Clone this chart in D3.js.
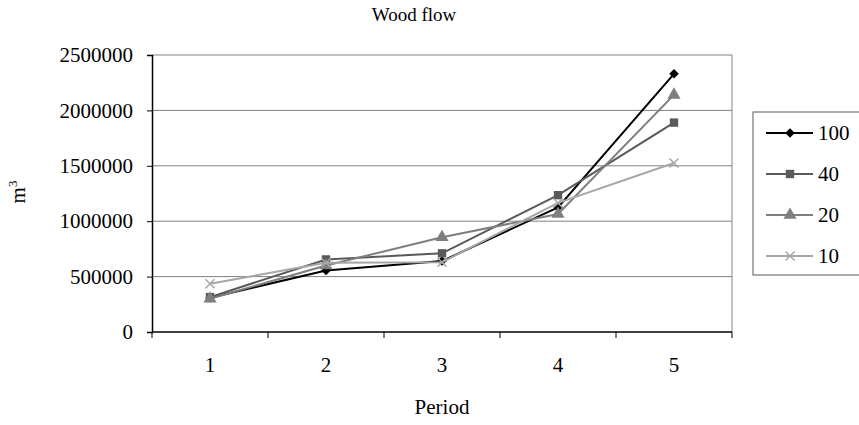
<!DOCTYPE html>
<html>
<head>
<meta charset="utf-8">
<script src="https://cdn.jsdelivr.net/npm/d3@7/dist/d3.min.js"></script>
<style>
  body { margin: 0; background: #fff; }
  svg text { font-family: "Liberation Serif", "Times New Roman", serif; fill: #000; }
</style>
</head>
<body>
<svg id="chart" width="859" height="425"></svg>
<script>
// data
var periods = ["1", "2", "3", "4", "5"];
var seriesNames = ["100", "40", "20", "10"];
var s100 = [310000, 555000, 640000, 1125000, 2330000];
var s40 = [315000, 655000, 710000, 1235000, 1890000];
var s20 = [300000, 600000, 855000, 1065000, 2140000];
var s10 = [435000, 625000, 630000, 1165000, 1525000];
var yTicks = [0, 500000, 1000000, 1500000, 2000000, 2500000];

var series = [s100, s40, s20, s10];
var colors = ["#000000", "#595959", "#7f7f7f", "#a6a6a6"];
var shapes = ["diamond", d3.symbolSquare, d3.symbolTriangle, "x"];

var plotL = 152, plotR = 732, plotT = 55, plotB = 332;
var svg = d3.select("#chart");

var x = d3.scaleBand().domain(periods).range([plotL, plotR]);
var y = d3.scaleLinear().domain([0, 2500000]).range([plotB, plotT]);

// gridlines
svg.append("g").selectAll("line")
  .data(yTicks.slice(1))
  .enter().append("line")
    .attr("x1", plotL).attr("x2", plotR)
    .attr("y1", function(d) { return y(d); })
    .attr("y2", function(d) { return y(d); })
    .attr("stroke", "#808080").attr("stroke-width", 1);

// right border
svg.append("line")
  .attr("x1", plotR).attr("x2", plotR).attr("y1", plotT).attr("y2", plotB)
  .attr("stroke", "#808080");

// y axis
var yAxis = svg.append("g")
  .attr("transform", "translate(" + plotL + ",0)")
  .call(d3.axisLeft(y).tickValues(yTicks).tickSize(5).tickPadding(14).tickFormat(d3.format("d")));
yAxis.select(".domain").attr("stroke", "#000").attr("stroke-width", 1.5);
yAxis.selectAll(".tick line").attr("stroke", "#000");
yAxis.selectAll("text").style("font-size", "21px").attr("font-family", null);

// x axis: line, boundary ticks, labels
svg.append("line")
  .attr("x1", plotL).attr("x2", plotR).attr("y1", plotB).attr("y2", plotB)
  .attr("stroke", "#000").attr("stroke-width", 1.5);
var bounds = periods.map(function(p) { return x(p); }).concat([plotR]);
svg.append("g").selectAll("line")
  .data(bounds)
  .enter().append("line")
    .attr("x1", function(d) { return d; }).attr("x2", function(d) { return d; })
    .attr("y1", plotB).attr("y2", plotB + 6)
    .attr("stroke", "#000");
svg.append("g").selectAll("text")
  .data(periods)
  .enter().append("text")
    .attr("x", function(d) { return x(d) + x.bandwidth() / 2; })
    .attr("y", 372)
    .attr("text-anchor", "middle")
    .style("font-size", "21px")
    .text(function(d) { return d; });

// lines and markers
function cx(i) { return x(periods[i]) + x.bandwidth() / 2; }
var line = d3.line()
  .x(function(d, i) { return cx(i); })
  .y(function(d) { return y(d); });

function drawMarker(g, shape, color, size) {
  if (shape === "x") {
    var r = 4.5;
    g.append("path")
      .attr("d", "M" + (-r) + "," + (-r) + "L" + r + "," + r + "M" + (-r) + "," + r + "L" + r + "," + (-r))
      .attr("stroke", color).attr("stroke-width", 1.5).attr("fill", "none");
  } else if (shape === "diamond") {
    g.append("path")
      .attr("d", d3.symbol().type(d3.symbolSquare).size(size)())
      .attr("transform", "rotate(45)")
      .attr("fill", color);
  } else {
    g.append("path")
      .attr("d", d3.symbol().type(shape).size(size)())
      .attr("fill", color);
  }
}
var sizes = [45, 70, 75, 0];

series.forEach(function(vals, k) {
  svg.append("path")
    .datum(vals)
    .attr("d", line)
    .attr("fill", "none")
    .attr("stroke", colors[k])
    .attr("stroke-width", 2);
  vals.forEach(function(v, i) {
    var g = svg.append("g").attr("transform", "translate(" + cx(i) + "," + y(v) + ")");
    drawMarker(g, shapes[k], colors[k], sizes[k]);
  });
});

// title and axis labels
svg.append("text")
  .attr("x", 414).attr("y", 21)
  .attr("text-anchor", "middle")
  .style("font-size", "19px")
  .text("Wood flow");

svg.append("text")
  .attr("x", 442).attr("y", 414)
  .attr("text-anchor", "middle")
  .style("font-size", "21px")
  .text("Period");

var ylab = svg.append("text")
  .attr("transform", "translate(25,192) rotate(-90)")
  .attr("text-anchor", "middle")
  .style("font-size", "21px");
ylab.append("tspan").text("m");
ylab.append("tspan").attr("dy", -8).style("font-size", "13px").text("3");

// legend
var legend = svg.append("g");
legend.append("rect")
  .attr("x", 753).attr("y", 112).attr("width", 120).attr("height", 163)
  .attr("fill", "#fff").attr("stroke", "#595959");
seriesNames.forEach(function(name, k) {
  var ly = 133 + k * 41;
  legend.append("line")
    .attr("x1", 766).attr("x2", 813).attr("y1", ly).attr("y2", ly)
    .attr("stroke", colors[k]).attr("stroke-width", 2);
  var g = legend.append("g").attr("transform", "translate(790," + ly + ")");
  drawMarker(g, shapes[k], colors[k], sizes[k]);
  legend.append("text")
    .attr("x", 818).attr("y", ly + 7)
    .style("font-size", "21px")
    .text(name);
});
</script>
</body>
</html>
